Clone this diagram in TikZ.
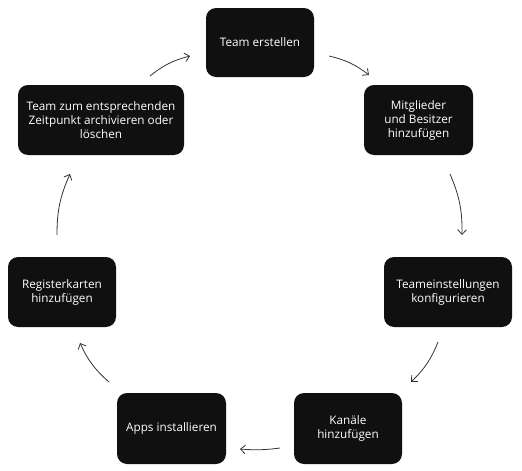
\documentclass[tikz,border=0pt]{standalone}
\usepackage{fontspec}
\setmainfont{Open Sans}
\usetikzlibrary{arrows.meta}
\definecolor{boxfill}{HTML}{101010}
\definecolor{arrowcol}{HTML}{333333}
\begin{document}
\begin{tikzpicture}[x=0.75pt,y=-0.75pt,
  stepbox/.style={draw=none,fill=boxfill,rounded corners=7.5pt,text=white,align=center,
    font=\fontsize{8.8pt}{10.5pt}\selectfont,inner sep=0pt,minimum height=52.5pt},
  flow/.style={draw=arrowcol,line width=0.6pt,-{Straight Barb[length=3.5pt,width=6.5pt]},bend left=12}]
\useasboundingbox (0,0) rectangle (522,471);
\node[stepbox,minimum width=81pt,minimum height=51.75pt] (te) at (260,42.5) {Team erstellen};
\node[stepbox,minimum width=124.5pt] (tz) at (101,120) {Team zum entsprechenden\\Zeitpunkt archivieren oder\\löschen};
\node[stepbox,minimum width=81.75pt] (mg) at (418.5,120) {Mitglieder\\und Besitzer\\hinzufügen};
\node[stepbox,minimum width=81pt] (rk) at (62,292) {Registerkarten\\hinzufügen};
\node[stepbox,minimum width=96pt] (ts) at (448,292) {Teameinstellungen\\konfigurieren};
\node[stepbox,minimum width=81.75pt,minimum height=53.25pt] (ap) at (171.5,428.5) {Apps installieren};
\node[stepbox,minimum width=81pt,minimum height=53.25pt] (ka) at (348,428.5) {Kanäle\\hinzufügen};
\coordinate (a1s) at (150,76);  \coordinate (a1e) at (190,56);
\coordinate (a2s) at (329,56);  \coordinate (a2e) at (369,75);
\coordinate (a3s) at (450,174); \coordinate (a3e) at (462,235);
\coordinate (a4s) at (438,342); \coordinate (a4e) at (411,382);
\coordinate (a5s) at (280,448); \coordinate (a5e) at (240,449);
\coordinate (a6s) at (109,382); \coordinate (a6e) at (80,343);
\coordinate (a7s) at (57,235);  \coordinate (a7e) at (70,174);
\draw[flow] (a1s) to (a1e);
\draw[flow] (a2s) to (a2e);
\draw[flow] (a3s) to (a3e);
\draw[flow] (a4s) to (a4e);
\draw[flow,bend left=6] (a5s) to (a5e);
\draw[flow] (a6s) to (a6e);
\draw[flow] (a7s) to (a7e);
\end{tikzpicture}
\end{document}
